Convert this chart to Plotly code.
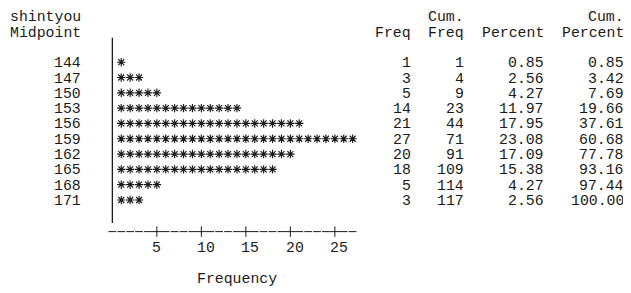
import plotly.graph_objects as go

# ---------------- data ----------------
var_name = "shintyou"
midpoints = [144, 147, 150, 153, 156, 159, 162, 165, 168, 171]
freq = [1, 3, 5, 14, 21, 27, 20, 18, 5, 3]
cum_freq = [1, 4, 9, 23, 44, 71, 91, 109, 114, 117]
percent = ["0.85", "2.56", "4.27", "11.97", "17.95", "23.08", "17.09", "15.38", "4.27", "2.56"]
cum_percent = ["0.85", "3.42", "7.69", "19.66", "37.61", "60.68", "77.78", "93.16", "97.44", "100.00"]
tick_vals = [5, 10, 15, 20, 25]
tick_labels = ["5", "10", "15", "20", "25"]
axis_end = 27
x_title = "Frequency"

# ---------------- layout geometry (monospace text grid) ----------------
W, H = 631, 293
PAGE_OFF = 8.0      # default page margin around the plot div
CW = 8.9            # character width, px (1 frequency unit)
X0 = 10.0 - PAGE_OFF  # left edge of column 0, px (figure coords)
BAR_COL = 11        # column of the '|' baseline
ROW0 = 62.2 - PAGE_OFF  # pixel centre of first midpoint row
RH = 15.31          # row height, px
STEP = midpoints[1] - midpoints[0]
FS = CW / 0.6001    # font size giving CW advance in Liberation Mono
FONT = "Liberation Mono, DejaVu Sans Mono, monospace"
INK = "#1a1a1a"
TXT_DY = 1.0 * STEP / RH   # nudge text 1px down

bar_px = X0 + (BAR_COL + 0.5) * CW
x_range = [-bar_px / CW, (W - bar_px) / CW]
y_range = [midpoints[0] + (H - ROW0) * STEP / RH, midpoints[0] - ROW0 * STEP / RH]


def row(r):
    return midpoints[0] + STEP * r


def col_right(c):
    return c - BAR_COL + 0.5


def col_left(c):
    return c - BAR_COL - 0.5


# ---------------- figure ----------------
xs, ys = [], []
for m, f in zip(midpoints, freq):
    for k in range(1, f + 1):
        xs.append(k)
        ys.append(m)

fig = go.Figure()
fig.add_trace(go.Scatter(
    x=xs, y=ys, mode="markers",
    marker=dict(symbol="asterisk-open", size=7, line=dict(width=1.15, color=INK), color=INK),
    hoverinfo="skip", showlegend=False,
))

# character-style horizontal axis: "-----+----+----+----+----+--"
n_rows = len(midpoints)
axis_y = row(n_rows + 1) + 1.0 * STEP / RH
dash_x = [k for k in range(0, axis_end + 1) if k not in tick_vals]
fig.add_trace(go.Scatter(
    x=dash_x, y=[axis_y] * len(dash_x), mode="markers",
    marker=dict(symbol="line-ew-open", size=5.5, color=INK, line=dict(width=1, color=INK)),
    hoverinfo="skip", showlegend=False,
))
fig.add_trace(go.Scatter(
    x=tick_vals, y=[axis_y] * len(tick_vals), mode="markers",
    marker=dict(symbol="cross-thin-open", size=7.5, color=INK, line=dict(width=1, color=INK)),
    hoverinfo="skip", showlegend=False,
))

ann = []


def txt(s, x, r, anchor, dy=0.0):
    ann.append(dict(text=s, x=x, y=row(r) + TXT_DY + dy, xref="x", yref="y", xanchor=anchor,
                    yanchor="middle", showarrow=False, borderpad=0, borderwidth=0,
                    font=dict(family=FONT, size=FS, color=INK)))


# headers
txt(var_name, col_left(0), -3, "left")
txt("Midpoint", col_left(0), -2, "left")
txt("Freq", col_right(44), -2, "right")
txt("Cum.", col_right(50), -3, "right")
txt("Freq", col_right(50), -2, "right")
txt("Percent", col_right(59), -2, "right")
txt("Cum.", col_right(68), -3, "right")
txt("Percent", col_right(68), -2, "right")

# rows
for i, m in enumerate(midpoints):
    txt(str(m), col_right(7), i, "right")
    txt(str(freq[i]), col_right(44), i, "right")
    txt(str(cum_freq[i]), col_right(50), i, "right")
    txt(percent[i], col_right(59), i, "right")
    txt(cum_percent[i], col_right(68), i, "right")

# tick labels and axis title
for v, lab in zip(tick_vals, tick_labels):
    txt(lab, v - 0.5, n_rows + 2, "left", dy=0.2)
txt(x_title, 9.5, n_rows + 4, "left", dy=0.2)

# vertical baseline
fig.add_shape(type="line", xref="x", yref="y", x0=0, x1=0,
              y0=row(-1) - 0.6 * STEP, y1=row(n_rows) + 0.5 * STEP,
              line=dict(color=INK, width=1.3))

fig.update_layout(
    width=W, height=H,
    margin=dict(l=0, r=0, t=0, b=0, pad=0),
    paper_bgcolor="white", plot_bgcolor="white",
    xaxis=dict(range=x_range, visible=False, fixedrange=True),
    yaxis=dict(range=y_range, visible=False, fixedrange=True),
    annotations=ann,
    showlegend=False,
)

fig.write_html("out.html")
